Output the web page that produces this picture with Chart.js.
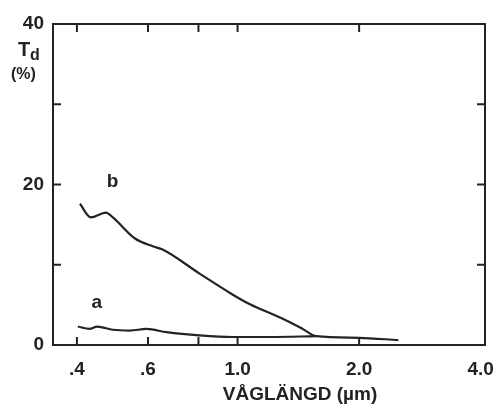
<!DOCTYPE html>
<html>
<head>
<meta charset="utf-8">
<script src="https://cdn.jsdelivr.net/npm/chart.js@4.4.0/dist/chart.umd.min.js"></script>
<style>
  html, body { margin: 0; padding: 0; background: #fff; }
  #wrap { position: relative; width: 496px; height: 409px; }
</style>
</head>
<body>
<div id="wrap"><canvas id="chart"></canvas></div>
<script>
// wavelength (µm) and diffuse transmittance Td (%)
const waveB = [0.407, 0.433, 0.472, 0.491, 0.556, 0.616, 0.652, 0.805, 0.971, 1.07, 1.29, 1.45, 1.565, 2.0, 2.5];
const curveB = [17.6, 15.9, 16.5, 15.9, 13.3, 12.3, 11.9, 8.9, 6.3, 5.1, 3.3, 2.0, 1.1, 0.9, 0.6];
const waveA = [0.402, 0.43, 0.449, 0.491, 0.541, 0.595, 0.667, 0.805, 0.971, 1.2, 1.565];
const curveA = [2.3, 2.0, 2.3, 1.9, 1.8, 2.0, 1.6, 1.2, 1.0, 1.0, 1.1];
const xTicks = [0.4, 0.6, 0.8, 1.0, 2.0, 4.0];
const xTickLabels = { 0.4: '.4', 0.6: '.6', 1: '1.0', 2: '2.0', 4: '4.0' };
const yTicks = [0, 10, 20, 30, 40];
const yTickLabels = { 0: '0', 20: '20', 40: '40' };
const curveLabels = [
  { text: 'b', x: 0.49, y: 20.4 },
  { text: 'a', x: 0.448, y: 5.3 },
];
const xTitle = 'VÅGLÄNGD (µm)';

const ink = '#232323';
const fontFam = '"Liberation Sans", Arial, sans-serif';

const toPoints = (xs, ys) => xs.map((x, i) => ({ x, y: ys[i] }));

// frame + inward tick marks + curve letters + axis titles
const decorations = {
  id: 'decorations',
  afterDraw(chart) {
    const { ctx, chartArea: a, scales } = chart;
    const xs = scales.x, ys = scales.y;
    ctx.save();
    ctx.strokeStyle = ink;
    ctx.lineWidth = 2;
    ctx.strokeRect(a.left, a.top, a.right - a.left, a.bottom - a.top);
    const len = 8;
    ctx.beginPath();
    xTicks.filter(v => v < 4).forEach(v => {
      const px = xs.getPixelForValue(v);
      ctx.moveTo(px, a.bottom); ctx.lineTo(px, a.bottom - len);
      ctx.moveTo(px, a.top); ctx.lineTo(px, a.top + len);
    });
    yTicks.filter(v => v > 0 && v < 40).forEach(v => {
      const py = ys.getPixelForValue(v);
      ctx.moveTo(a.left, py); ctx.lineTo(a.left + len, py);
      ctx.moveTo(a.right, py); ctx.lineTo(a.right - len, py);
    });
    ctx.stroke();

    ctx.fillStyle = ink;
    ctx.textAlign = 'center';
    ctx.textBaseline = 'middle';
    ctx.font = 'bold 19px ' + fontFam;
    curveLabels.forEach(l => {
      ctx.fillText(l.text, xs.getPixelForValue(l.x), ys.getPixelForValue(l.y));
    });

    // x title, sitting right of centre as in the original
    ctx.font = 'bold 19px ' + fontFam;
    ctx.fillText(xTitle, 300, 395);

    // y title: T with subscript d, then (%)
    ctx.textAlign = 'left';
    ctx.font = 'bold 20px ' + fontFam;
    ctx.fillText('T', 18, 50);
    ctx.font = 'bold 16px ' + fontFam;
    ctx.fillText('d', 30, 56);
    ctx.font = 'bold 16px ' + fontFam;
    ctx.fillText('(%)', 11, 75);
    ctx.restore();
  }
};

new Chart(document.getElementById('chart'), {
  type: 'line',
  data: {
    datasets: [
      {
        label: 'b',
        data: toPoints(waveB, curveB),
        borderColor: ink,
        borderWidth: 2.2,
        pointRadius: 0,
        cubicInterpolationMode: 'monotone',
        fill: false,
      },
      {
        label: 'a',
        data: toPoints(waveA, curveA),
        borderColor: ink,
        borderWidth: 2.2,
        pointRadius: 0,
        cubicInterpolationMode: 'monotone',
        fill: false,
      },
    ],
  },
  options: {
    responsive: true,
    maintainAspectRatio: false,
    animation: false,
    layout: { padding: { top: 24, right: 11, left: 0, bottom: 0 } },
    plugins: {
      legend: { display: false },
      tooltip: { enabled: false },
    },
    scales: {
      x: {
        type: 'logarithmic',
        bounds: 'data',
        min: 0.349,
        max: 4.1,
        afterBuildTicks: (scale) => {
          scale.ticks = xTicks.map(v => ({ value: v }));
        },
        afterFit: (scale) => {
          scale.height = 64;
          scale.paddingLeft = 0;
          scale.paddingRight = 0;
        },
        ticks: {
          autoSkip: false,
          maxRotation: 0,
          color: ink,
          padding: 13,
          font: { family: fontFam, size: 19, weight: 'bold' },
          callback: (v) => xTickLabels[v] || '',
        },
        grid: { display: false, drawTicks: false },
        border: { display: false },
      },
      y: {
        min: 0,
        max: 40,
        afterBuildTicks: (scale) => {
          scale.ticks = yTicks.map(v => ({ value: v }));
        },
        afterFit: (scale) => {
          scale.width = 53;
          scale.paddingTop = 0;
          scale.paddingBottom = 0;
        },
        ticks: {
          color: ink,
          padding: 9,
          font: { family: fontFam, size: 19, weight: 'bold' },
          callback: (v) => yTickLabels[v] || '',
        },
        grid: { display: false, drawTicks: false },
        border: { display: false },
      },
    },
  },
  plugins: [decorations],
});
</script>
</body>
</html>
